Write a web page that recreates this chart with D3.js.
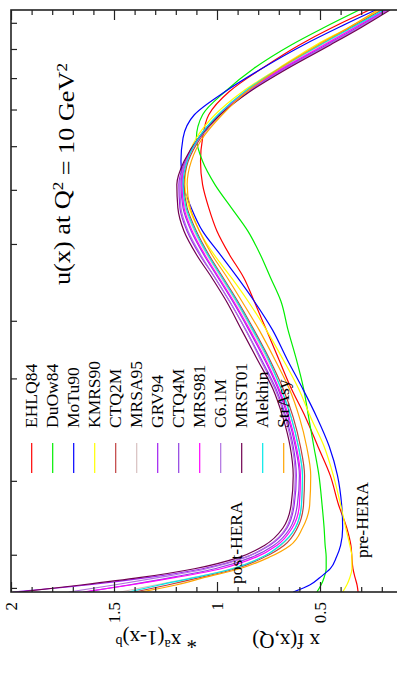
<!DOCTYPE html>
<html>
<head>
<meta charset="utf-8">
<script src="https://cdn.jsdelivr.net/npm/d3@7"></script>
<style>
  body { margin: 0; background: #fff; }
  text { font-family: "Liberation Serif", "DejaVu Serif", serif; fill: #000; }
</style>
</head>
<body>
<svg width="397" height="675"></svg>
<script>
// position along the (unlabelled) x axis, 0 = bottom frame, 100 = top frame
var gridPos = [100, 97, 94, 90, 86, 82, 78, 74, 70, 66, 62, 58, 54, 50, 45, 40, 35, 30, 25, 20, 15, 11, 8, 6, 4, 2.5, 1.2, 0];

var EHLQ84  = [0.26, 0.44, 0.60, 0.78, 0.94, 1.04, 1.07, 1.08, 1.07, 1.04, 1.00, 0.94, 0.87, 0.82, 0.76, 0.70, 0.64, 0.57, 0.51, 0.45, 0.41, 0.37, 0.35, 0.345, 0.34, 0.33, 0.32, 0.315];
var DuOw84  = [0.31, 0.48, 0.64, 0.82, 0.96, 1.07, 1.10, 1.07, 1.01, 0.93, 0.85, 0.79, 0.74, 0.69, 0.655, 0.615, 0.58, 0.555, 0.53, 0.505, 0.49, 0.48, 0.475, 0.47, 0.47, 0.48, 0.495, 0.515];
var MoTu90  = [0.23, 0.41, 0.58, 0.78, 0.96, 1.11, 1.165, 1.175, 1.165, 1.125, 1.07, 0.985, 0.90, 0.82, 0.73, 0.66, 0.585, 0.515, 0.455, 0.415, 0.395, 0.39, 0.40, 0.42, 0.45, 0.50, 0.55, 0.63];
var KMRS90  = [0.21, 0.36, 0.52, 0.70, 0.875, 1.01, 1.10, 1.145, 1.155, 1.135, 1.085, 1.015, 0.93, 0.85, 0.76, 0.68, 0.605, 0.545, 0.48, 0.435, 0.40, 0.375, 0.355, 0.345, 0.345, 0.355, 0.37, 0.39];
var CTQ2M   = [0.20, 0.35, 0.50, 0.69, 0.86, 0.985, 1.08, 1.14, 1.16, 1.145, 1.10, 1.04, 0.97, 0.90, 0.82, 0.745, 0.68, 0.63, 0.595, 0.575, 0.58, 0.61, 0.675, 0.77, 0.91, 1.08, 1.24, 1.40];
var MRSA95  = [0.19, 0.335, 0.49, 0.69, 0.86, 0.995, 1.09, 1.15, 1.17, 1.155, 1.11, 1.05, 0.98, 0.91, 0.83, 0.755, 0.69, 0.64, 0.605, 0.585, 0.59, 0.62, 0.69, 0.78, 0.93, 1.11, 1.30, 1.47];
var GRV94   = [0.17, 0.31, 0.46, 0.665, 0.85, 0.99, 1.09, 1.155, 1.185, 1.18, 1.145, 1.085, 1.01, 0.94, 0.86, 0.785, 0.715, 0.665, 0.63, 0.615, 0.625, 0.66, 0.745, 0.86, 1.07, 1.33, 1.63, 1.99];
var CTQ4M   = [0.18, 0.32, 0.47, 0.675, 0.855, 0.99, 1.09, 1.15, 1.175, 1.165, 1.125, 1.065, 0.995, 0.925, 0.845, 0.77, 0.705, 0.655, 0.62, 0.60, 0.61, 0.645, 0.725, 0.83, 1.01, 1.22, 1.43, 1.64];
var MRS981  = [0.18, 0.33, 0.48, 0.68, 0.86, 0.99, 1.09, 1.15, 1.17, 1.16, 1.12, 1.06, 0.99, 0.92, 0.84, 0.765, 0.70, 0.65, 0.615, 0.595, 0.60, 0.635, 0.71, 0.81, 0.98, 1.20, 1.42, 1.65];
var C61M    = [0.17, 0.31, 0.46, 0.66, 0.845, 0.985, 1.085, 1.15, 1.18, 1.175, 1.14, 1.08, 1.01, 0.94, 0.86, 0.79, 0.72, 0.67, 0.635, 0.62, 0.63, 0.665, 0.75, 0.86, 1.05, 1.28, 1.50, 1.72];
var MRST01  = [0.16, 0.30, 0.45, 0.655, 0.84, 0.985, 1.09, 1.16, 1.195, 1.19, 1.16, 1.10, 1.025, 0.955, 0.88, 0.805, 0.73, 0.68, 0.645, 0.63, 0.64, 0.68, 0.77, 0.89, 1.11, 1.37, 1.66, 1.96];
var Alekhin = [0.19, 0.345, 0.50, 0.695, 0.865, 0.995, 1.09, 1.145, 1.165, 1.15, 1.105, 1.045, 0.975, 0.905, 0.825, 0.75, 0.69, 0.64, 0.605, 0.585, 0.59, 0.62, 0.695, 0.78, 0.925, 1.105, 1.28, 1.43];
var StrAsy  = [0.22, 0.36, 0.51, 0.695, 0.855, 0.975, 1.07, 1.125, 1.145, 1.13, 1.085, 1.025, 0.95, 0.88, 0.795, 0.72, 0.65, 0.60, 0.565, 0.545, 0.55, 0.585, 0.645, 0.745, 0.89, 1.06, 1.20, 1.37];

var seriesNames  = ["EHLQ84", "DuOw84", "MoTu90", "KMRS90", "CTQ2M", "MRSA95", "GRV94", "CTQ4M", "MRS981", "C6.1M", "MRST01", "Alekhin", "StrAsy"];
var seriesValues = [EHLQ84, DuOw84, MoTu90, KMRS90, CTQ2M, MRSA95, GRV94, CTQ4M, MRS981, C61M, MRST01, Alekhin, StrAsy];
var seriesColors = ["#ff0000", "#00ee00", "#0000ff", "#ffff00", "#c04040", "#d8c0c0", "#a020f0", "#9040e0", "#ff00ff", "#b070e0", "#700050", "#00e8e8", "#ffa500"];

// tick marks on the x axis (same position units as gridPos)
var xAxisTicks = [97.8, 93.3, 88.3, 82.9, 76.6, 69.1, 59.8, 46.6, 36.7, 19.1, 6.4, 0.7];
var valueMinor = [0.2, 0.3, 0.4, 0.6, 0.7, 0.8, 0.9, 1.1, 1.2, 1.3, 1.4, 1.6, 1.7, 1.8, 1.9];
var valueMajor = [0.5, 1, 1.5, 2];
var valueLabels = ["0.5", "1", "1.5", "2"];

var svg = d3.select("svg");
var frame = { left: 11, right: 423, top: 10, bottom: 592 };

var scaleV = d3.scaleLinear().domain([2, 0]).range([frame.left, frame.right]);
var scaleP = d3.scaleLinear().domain([0, 100]).range([frame.bottom, frame.top]);

svg.append("defs").append("clipPath")
    .attr("id", "clip")
  .append("rect")
    .attr("x", frame.left)
    .attr("y", frame.top)
    .attr("width", frame.right - frame.left)
    .attr("height", frame.bottom - frame.top);

// curves
var line = d3.line()
  .x(function(d) { return scaleV(d[1]); })
  .y(function(d) { return scaleP(d[0]); })
  .curve(d3.curveMonotoneY);

var curves = svg.append("g").attr("clip-path", "url(#clip)");
seriesValues.forEach(function(vals, i) {
  curves.append("path")
    .datum(gridPos.map(function(p, k) { return [p, vals[k]]; }))
    .attr("fill", "none")
    .attr("stroke", seriesColors[i])
    .attr("stroke-width", 1.2)
    .attr("d", line);
});

// axes
function noDomain(g) { g.select(".domain").remove(); g.selectAll("line").attr("stroke", "#222").attr("stroke-width", 1.2); }

svg.append("g").attr("transform", "translate(0," + frame.top + ")")
  .call(d3.axisBottom(scaleV).tickValues(valueMinor).tickSize(5).tickFormat(""))
  .call(noDomain);
svg.append("g").attr("transform", "translate(0," + frame.top + ")")
  .call(d3.axisBottom(scaleV).tickValues(valueMajor).tickSize(10).tickFormat(""))
  .call(noDomain);
svg.append("g").attr("transform", "translate(0," + frame.bottom + ")")
  .call(d3.axisTop(scaleV).tickValues(valueMinor).tickSize(5).tickFormat(""))
  .call(noDomain);
svg.append("g").attr("transform", "translate(0," + frame.bottom + ")")
  .call(d3.axisTop(scaleV).tickValues(valueMajor).tickSize(10).tickFormat(""))
  .call(noDomain);
svg.append("g").attr("transform", "translate(" + frame.left + ",0)")
  .call(d3.axisRight(scaleP).tickValues(xAxisTicks).tickSize(6).tickFormat(""))
  .call(noDomain);

svg.append("rect")
  .attr("x", frame.left).attr("y", frame.top)
  .attr("width", frame.right - frame.left).attr("height", frame.bottom - frame.top)
  .attr("fill", "none").attr("stroke", "#222").attr("stroke-width", 1.6);

// value tick labels, rotated
svg.selectAll(".vlabel")
  .data(valueMajor)
  .enter().append("text")
    .attr("class", "vlabel")
    .attr("transform", function(d) { return "translate(" + scaleV(d) + "," + (frame.bottom + 10) + ") rotate(-90)"; })
    .attr("text-anchor", "end")
    .attr("dy", "0.33em")
    .style("font-size", "17px")
    .text(function(d, i) { return valueLabels[i]; });

// axis title, upside down
svg.append("text")
  .attr("transform", "translate(320,634) rotate(180)")
  .style("font-size", "21px")
  .text("x f(x,Q)");
var t2 = svg.append("text")
  .attr("transform", "translate(197,634) rotate(180)")
  .style("font-size", "21px");
t2.append("tspan").text("* x");
t2.append("tspan").attr("dy", "-0.45em").style("font-size", "14px").text("a");
t2.append("tspan").attr("dy", "0.45em").text("(1-x)");
t2.append("tspan").attr("dy", "-0.45em").style("font-size", "14px").text("b");

// chart title
var title = svg.append("text")
  .attr("transform", "translate(70,285) rotate(-90)")
  .attr("textLength", 222)
  .attr("lengthAdjust", "spacingAndGlyphs")
  .style("font-size", "23px");
title.append("tspan").text("u(x) at Q");
title.append("tspan").attr("dy", "-0.45em").style("font-size", "15px").text("2");
title.append("tspan").attr("dy", "0.45em").text(" = 10 GeV");
title.append("tspan").attr("dy", "-0.45em").style("font-size", "15px").text("2");

// legend
var legendX = d3.scalePoint().domain(seriesNames).range([31.7, 283.7]);
var legend = svg.append("g");
seriesNames.forEach(function(name, i) {
  legend.append("text")
    .attr("transform", "translate(" + legendX(name) + ",428) rotate(-90)")
    .attr("dy", "0.33em")
    .style("font-size", "17.5px")
    .text(name);
  legend.append("line")
    .attr("x1", legendX(name)).attr("x2", legendX(name))
    .attr("y1", 443).attr("y2", 473)
    .attr("stroke", seriesColors[i])
    .attr("stroke-width", 1.2);
});

svg.append("text")
  .attr("transform", "translate(242,584) rotate(-90)")
  .style("font-size", "17.5px")
  .text("post-HERA");
svg.append("text")
  .attr("transform", "translate(368,558) rotate(-90)")
  .style("font-size", "17.5px")
  .text("pre-HERA");
</script>
</body>
</html>
